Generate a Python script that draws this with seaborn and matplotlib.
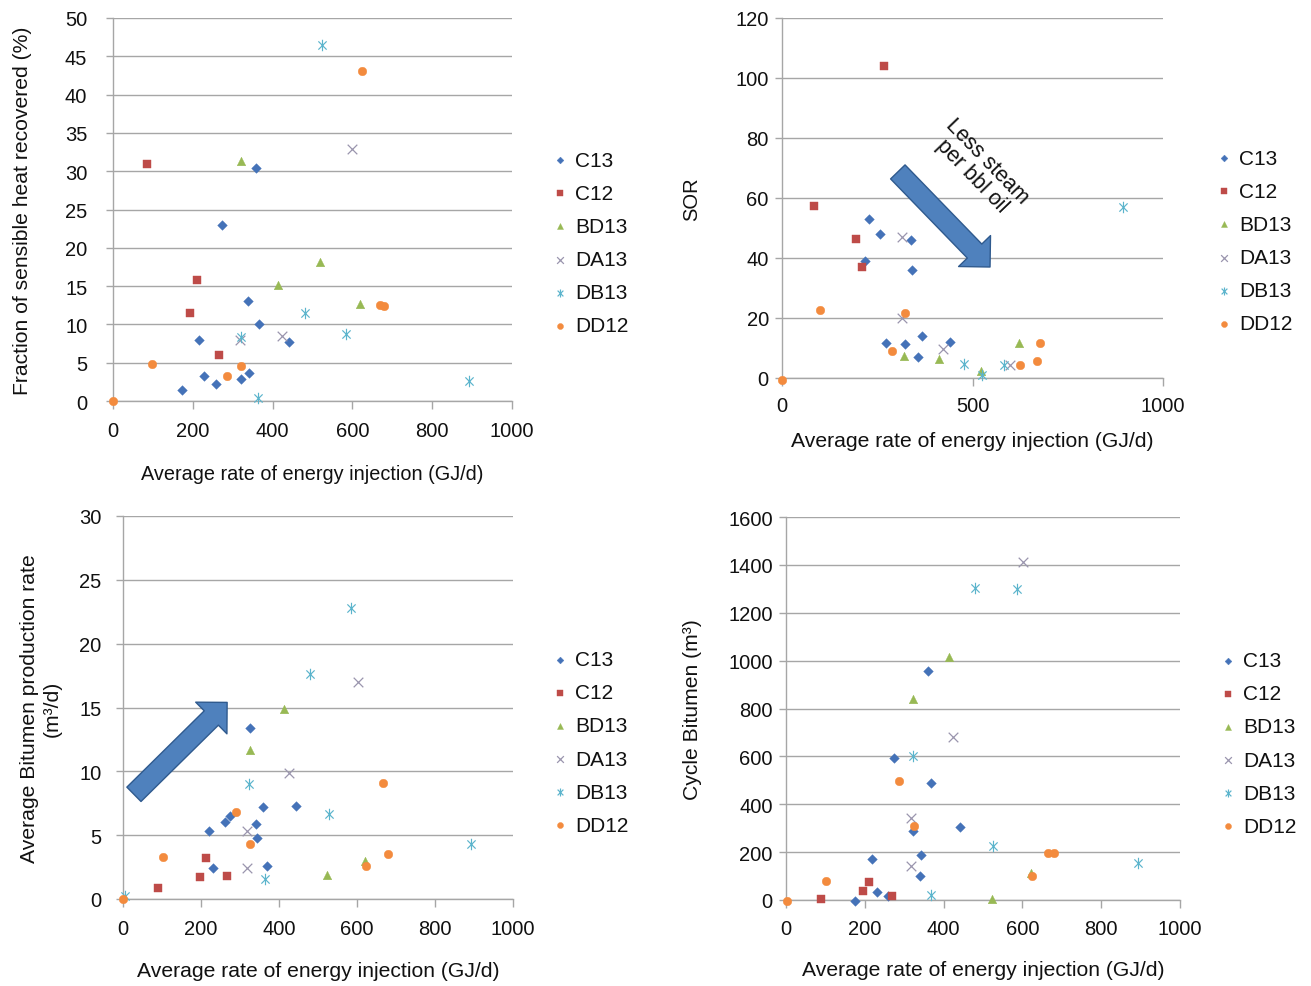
import numpy as np
import pandas as pd
import matplotlib
matplotlib.use("Agg")
import matplotlib.pyplot as plt
from matplotlib.path import Path
import seaborn as sns

sns.set_style("white")
plt.rcParams['font.family'] = ['Liberation Sans', 'DejaVu Sans']
plt.rcParams['text.color'] = '#111111'
plt.rcParams['axes.labelcolor'] = '#111111'
plt.rcParams['xtick.color'] = '#a6a6a6'
plt.rcParams['ytick.color'] = '#a6a6a6'
plt.rcParams['xtick.labelcolor'] = '#111111'
plt.rcParams['ytick.labelcolor'] = '#111111'

# ---------------- data ----------------
series = ["C13", "C12", "BD13", "DA13", "DB13", "DD12"]

# Panel 1: Fraction of sensible heat recovered (%)
p1_C13_x = [173, 216, 229, 258, 273, 322, 339, 341, 358, 366, 442]
p1_C13_y = [1.4, 8.0, 3.2, 2.2, 23.0, 2.9, 13.0, 3.7, 30.4, 10.0, 7.7]
p1_C12_x = [86, 194, 210, 266]
p1_C12_y = [30.9, 11.5, 15.8, 6.0]
p1_BD13_x = [322, 413, 518, 620]
p1_BD13_y = [31.3, 15.1, 18.1, 12.7]
p1_DA13_x = [318, 424, 600]
p1_DA13_y = [8.0, 8.5, 32.9]
p1_DB13_x = [322, 364, 480, 525, 584, 893]
p1_DB13_y = [8.3, 0.4, 11.5, 46.5, 8.8, 2.65]
p1_DD12_x = [0, 98, 285, 322, 624, 669, 679]
p1_DD12_y = [0, 4.8, 3.2, 4.6, 43.1, 12.5, 12.4]

# Panel 2: SOR
p2_C13_x = [217, 228, 258, 273, 322, 339, 340, 358, 367, 441]
p2_C13_y = [39.0, 52.9, 47.9, 11.6, 11.3, 46.1, 36.1, 7.1, 14.1, 12.0]
p2_C12_x = [85, 194, 209, 267]
p2_C12_y = [57.2, 46.3, 36.9, 103.9]
p2_BD13_x = [321, 413, 521, 621]
p2_BD13_y = [7.4, 6.5, 2.4, 11.7]
p2_DA13_x = [316, 316, 423, 598]
p2_DA13_y = [47.0, 20.1, 9.8, 4.5]
p2_DB13_x = [479, 525, 583, 894]
p2_DB13_y = [4.7, 1.1, 4.5, 57.1]
p2_DD12_x = [0, 99, 288, 322, 625, 668, 677]
p2_DD12_y = [-0.5, 22.6, 9.1, 21.6, 4.2, 5.6, 11.6]

# Panel 3: Average Bitumen production rate (m3/d)
p3_C13_x = [220, 232, 261, 274, 325, 341, 343, 360, 369, 443]
p3_C13_y = [5.3, 2.4, 6.0, 6.5, 13.4, 5.85, 4.75, 7.2, 2.6, 7.3]
p3_C12_x = [90, 197, 213, 267]
p3_C12_y = [0.86, 1.75, 3.2, 1.8]
p3_BD13_x = [325, 413, 522, 621]
p3_BD13_y = [11.7, 14.9, 1.9, 2.95]
p3_DA13_x = [318, 319, 425, 603]
p3_DA13_y = [5.3, 2.4, 9.9, 17.0]
p3_DB13_x = [5, 324, 364, 479, 528, 585, 892]
p3_DB13_y = [0.2, 9.0, 1.55, 17.6, 6.65, 22.8, 4.3]
p3_DD12_x = [0, 103, 289, 325, 624, 667, 679]
p3_DD12_y = [0, 3.3, 6.8, 4.3, 2.6, 9.1, 3.5]

# Panel 4: Cycle Bitumen (m3)
p4_C13_x = [175, 218, 230, 260, 275, 323, 340, 343, 360, 367, 442]
p4_C13_y = [-5, 173, 35, 18, 594, 290, 100, 188, 955, 489, 304]
p4_C12_x = [88, 195, 210, 269]
p4_C12_y = [4, 39, 74, 17]
p4_BD13_x = [323, 414, 522, 621]
p4_BD13_y = [840, 1016, 4, 112]
p4_DA13_x = [317, 317, 424, 601]
p4_DA13_y = [341, 143, 680, 1413]
p4_DB13_x = [323, 367, 479, 525, 586, 893]
p4_DB13_y = [603, 22, 1302, 227, 1299, 156]
p4_DD12_x = [3, 102, 288, 325, 624, 666, 679]
p4_DD12_y = [-5, 81, 498, 310, 99, 198, 198]

panels = [
    {"C13": (p1_C13_x, p1_C13_y), "C12": (p1_C12_x, p1_C12_y), "BD13": (p1_BD13_x, p1_BD13_y),
     "DA13": (p1_DA13_x, p1_DA13_y), "DB13": (p1_DB13_x, p1_DB13_y), "DD12": (p1_DD12_x, p1_DD12_y)},
    {"C13": (p2_C13_x, p2_C13_y), "C12": (p2_C12_x, p2_C12_y), "BD13": (p2_BD13_x, p2_BD13_y),
     "DA13": (p2_DA13_x, p2_DA13_y), "DB13": (p2_DB13_x, p2_DB13_y), "DD12": (p2_DD12_x, p2_DD12_y)},
    {"C13": (p3_C13_x, p3_C13_y), "C12": (p3_C12_x, p3_C12_y), "BD13": (p3_BD13_x, p3_BD13_y),
     "DA13": (p3_DA13_x, p3_DA13_y), "DB13": (p3_DB13_x, p3_DB13_y), "DD12": (p3_DD12_x, p3_DD12_y)},
    {"C13": (p4_C13_x, p4_C13_y), "C12": (p4_C12_x, p4_C12_y), "BD13": (p4_BD13_x, p4_BD13_y),
     "DA13": (p4_DA13_x, p4_DA13_y), "DB13": (p4_DB13_x, p4_DB13_y), "DD12": (p4_DD12_x, p4_DD12_y)},
]

xlabel = "Average rate of energy injection (GJ/d)"
ylabels = ["Fraction of sensible heat recovered (%)", "SOR",
           "Average Bitumen production rate\n(m³/d)", "Cycle Bitumen (m³)"]
ylims = [(0, 50, 5), (0, 120, 20), (0, 30, 5), (0, 1600, 200)]
xsteps = [200, 500, 200, 200]

# ---------------- style ----------------
# Excel-like asterisk: vertical bar plus an x
asterisk = Path([(0, -1), (0, 1), (-0.72, -0.72), (0.72, 0.72), (-0.72, 0.72), (0.72, -0.72)],
                [Path.MOVETO, Path.LINETO] * 3)

colors = {"C13": "#4472B8", "C12": "#BE4B48", "BD13": "#98B954",
          "DA13": "#9A95AE", "DB13": "#5BB4CC", "DD12": "#F38B3E"}
markers = {"C13": "D", "C12": "s", "BD13": "^", "DA13": "x", "DB13": asterisk, "DD12": "o"}
sizes = {"C13": 24, "C12": 38, "BD13": 38, "DA13": 48, "DB13": 68, "DD12": 38}
lws = {"DA13": 0.9, "DB13": 0.85}

W, H = 1311, 987
fig = plt.figure(figsize=(W / 100, H / 100), dpi=100)

def box(l, t, r, b):
    return [l / W, 1 - b / H, (r - l) / W, (b - t) / H]

ax_boxes = [box(113, 19, 512, 402), box(782, 19, 1163, 379),
            box(123, 517, 513, 900), box(786, 518, 1180, 901)]
ylab_x = [-0.203, -0.2126, -0.156, -0.213]
ylab_fs = [15.2, 14.5, 15.2, 15.2]
xlab_y = [-0.1645, -0.146, -0.1606, -0.1554]
xlab_fs = [14.3, 15.2, 15.2, 15.2]
ytick_pad = [13.5, 4.5, 10.5, 4.5]
xtick_pad = [9.0, 7.5, 9.0, 8.0]
legend_anchor = [(554, 244), (1218, 242), (554, 743.5), (1222, 744.5)]

grid_c = "#a6a6a6"
axes = []
for i, (pdata, bx) in enumerate(zip(panels, ax_boxes)):
    ax = fig.add_axes(bx)
    axes.append(ax)
    for s in series:
        xs, ys = pdata[s]
        kw = dict(x=xs, y=ys, ax=ax, color=colors[s], marker=markers[s], s=sizes[s],
                  label=s, clip_on=False, zorder=3, legend=False, edgecolor=colors[s])
        if s in lws:
            kw.update(linewidth=lws[s])
        else:
            kw.update(linewidth=0.3)
        sns.scatterplot(**kw)
    y0, y1, ys_ = ylims[i]
    ax.set_ylim(y0, y1)
    ax.set_yticks(np.arange(y0, y1 + ys_ / 2, ys_))
    ax.set_xlim(0, 1000)
    ax.set_xticks(np.arange(0, 1001, xsteps[i]))
    ax.yaxis.grid(True, color=grid_c, linewidth=1.0)
    ax.xaxis.grid(False)
    ax.set_axisbelow(True)
    for sp in ("top", "right"):
        ax.spines[sp].set_visible(False)
    for sp in ("left", "bottom"):
        ax.spines[sp].set_color(grid_c)
        ax.spines[sp].set_linewidth(1.0)
    ax.tick_params(axis="x", direction="out", length=5.5, width=1, color=grid_c,
                   labelsize=14.5, pad=xtick_pad[i], bottom=True)
    ax.tick_params(axis="y", direction="out", length=5, width=1, color=grid_c,
                   labelsize=14.5, pad=ytick_pad[i], left=True)
    ax.set_xlabel(xlabel, fontsize=xlab_fs[i])
    ax.set_ylabel(ylabels[i], fontsize=ylab_fs[i], linespacing=1.3)
    ax.xaxis.set_label_coords(0.5, xlab_y[i])
    ax.yaxis.set_label_coords(ylab_x[i], 0.5)
    hs = [h for h in ax.collections]
    lx, ly = legend_anchor[i]
    ax.legend(hs, series, loc="center left", bbox_to_anchor=(lx / W, 1 - ly / H),
              bbox_transform=fig.transFigure, frameon=False, fontsize=15,
              handlelength=0.6, handletextpad=0.4, labelspacing=0.68,
              borderpad=0, borderaxespad=0, markerscale=0.7)

# Annotation arrows
arrow_fc, arrow_ec = "#4F81BD", "#2F5A8E"
style = "simple,head_length=1.6,head_width=3.2,tail_width=1.45"
axes[1].annotate("", xy=(546, 37), xytext=(304, 68.7),
                 arrowprops=dict(arrowstyle=style, mutation_scale=10, fc=arrow_fc,
                                 ec=arrow_ec, lw=1, shrinkA=0, shrinkB=0), zorder=5)
axes[1].text(519, 70, "Less steam\nper bbl oil", rotation=-46, ha="center", va="center",
             multialignment="center", fontsize=15.5, rotation_mode="anchor", linespacing=1.0)
axes[2].annotate("", xy=(267, 15.4), xytext=(28, 8.2),
                 arrowprops=dict(arrowstyle=style, mutation_scale=10, fc=arrow_fc,
                                 ec=arrow_ec, lw=1, shrinkA=0, shrinkB=0), zorder=5)

fig.savefig("out.png", dpi=100, facecolor="white")
